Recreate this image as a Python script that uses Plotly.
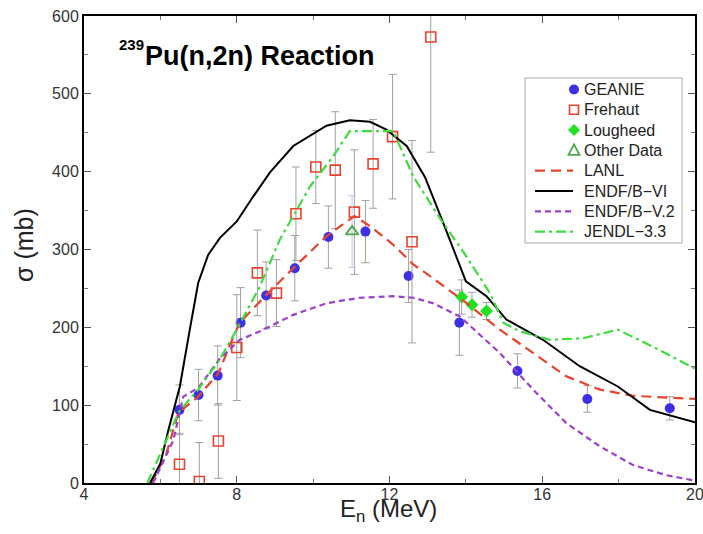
import plotly.graph_objects as go

# ---- data ----
geanie_E = [6.5, 7.0, 7.5, 8.1, 8.77, 9.52, 10.4, 11.37, 12.5, 13.83, 15.35, 17.18, 19.34]
geanie_s = [94, 113, 138, 206, 241, 276, 316, 323, 266, 206, 144, 108, 96]
geanie_err = [32, 33, 38, 45, 43, 42, 40, 40, 34, 42, 22, 17, 15]

frehaut_E = [6.5, 7.02, 7.52, 8.0, 8.54, 9.04, 9.55, 10.07, 10.58, 11.08, 11.57, 12.08, 12.59, 13.08]
frehaut_s = [24, 2, 54, 174, 270, 244, 346, 406, 402, 348, 410, 445, 310, 573]
frehaut_err = [40, 50, 48, 68, 55, 43, 60, 47, 75, 80, 57, 80, 130, 148]

lough_E = [13.89, 14.16, 14.54]
lough_s = [239, 229, 221]
lough_err = [22, 16, 11]

other_E = [11.02]
other_s = [323]
other_err = [46]

lanl_E = [5.77, 6.16, 6.47, 6.99, 7.52, 7.8, 8.08, 8.78, 9.52, 10.35, 11.08, 11.49, 12.1, 12.62, 13.14, 13.84, 14.02, 14.89, 15.76, 16.63, 17.51, 18.38, 20.0]
lanl_s = [0, 38, 90, 111, 141, 175, 206, 242, 278, 317, 343, 330, 306, 281, 263, 238, 231, 197, 167, 137, 120, 112, 108]

endf6_E = [5.73, 6.0, 6.21, 6.51, 6.77, 6.99, 7.25, 7.56, 8.0, 8.43, 8.87, 9.48, 10.35, 10.96, 11.49, 11.92, 12.45, 12.93, 13.41, 14.0, 14.54, 15.06, 16.02, 16.98, 17.98, 18.82, 20.0]
endf6_s = [0, 25, 68, 124, 197, 257, 293, 315, 336, 368, 399, 433, 459, 466, 464, 454, 433, 393, 334, 259, 240, 210, 184, 150, 124, 94, 78]

endf5_E = [5.81, 6.34, 6.6, 6.99, 7.56, 8.08, 8.61, 9.48, 10.35, 11.22, 12.1, 12.62, 13.14, 13.84, 14.02, 14.89, 15.76, 16.63, 17.51, 18.38, 19.25, 20.0]
endf5_s = [0, 55, 111, 122, 160, 184, 195, 216, 231, 238, 240, 238, 231, 214, 206, 167, 120, 77, 47, 23, 10, 3]

jendl_E = [5.66, 6.12, 6.49, 6.99, 7.52, 8.0, 8.61, 9.13, 9.92, 10.53, 10.96, 12.1, 12.62, 13.35, 14.0, 14.63, 14.98, 15.41, 16.2, 17.07, 17.98, 18.9, 20.0]
jendl_s = [0, 51, 92, 120, 156, 197, 253, 313, 381, 420, 452, 452, 394, 338, 292, 244, 206, 195, 184, 186, 197, 175, 147]

x_ticks = [4, 8, 12, 16, 20]
y_ticks = [0, 100, 200, 300, 400, 500, 600]

legend_names = ["GEANIE", "Frehaut", "Lougheed", "Other Data", "LANL", "ENDF/B\u2212VI", "ENDF/B\u2212V.2", "JENDL\u22123.3"]

# ---- styles ----
BLUE = "#3b30e6"
RED = "#e8432c"
GREEN = "#22e022"
OGREEN = "#4aa84a"
PURPLE = "#9b3fd0"
JGREEN = "#3edc3e"
ERR = "#a0a0a0"
FONT = "Liberation Sans, Arial, sans-serif"

W, H = 703, 534
ML, MR, MT, MB = 84, 8, 16, 51
PW, PH = W - ML - MR, H - MT - MB

def px(xp):
    return (xp - ML) / PW

def py(yp):
    return (H - MB - yp) / PH

fig = go.Figure()

def errbar(vals, color=ERR):
    return dict(type="data", array=vals, visible=True, color=color, thickness=1, width=4)

fig.add_trace(go.Scatter(x=geanie_E, y=geanie_s, mode="markers", name="GEANIE",
                         marker=dict(symbol="circle", size=10, color=BLUE),
                         error_y=errbar(geanie_err)))
fig.add_trace(go.Scatter(x=frehaut_E, y=frehaut_s, mode="markers", name="Frehaut",
                         marker=dict(symbol="square-open", size=10, color=RED, line=dict(width=1.6, color=RED)),
                         error_y=errbar(frehaut_err)))
fig.add_trace(go.Scatter(x=lough_E, y=lough_s, mode="markers", name="Lougheed",
                         marker=dict(symbol="diamond", size=10, color=GREEN),
                         error_y=errbar(lough_err)))
fig.add_trace(go.Scatter(x=other_E, y=other_s, mode="markers", name="Other Data",
                         marker=dict(symbol="triangle-up-open", size=11, color=OGREEN, line=dict(width=1.8, color=OGREEN)),
                         error_y=errbar(other_err, "#b8c4ee")))
fig.add_trace(go.Scatter(x=lanl_E, y=lanl_s, mode="lines", name="LANL",
                         line=dict(color=RED, width=2.2, dash="10px,6px")))
fig.add_trace(go.Scatter(x=endf6_E, y=endf6_s, mode="lines", name="ENDF/B-VI",
                         line=dict(color="black", width=2)))
fig.add_trace(go.Scatter(x=endf5_E, y=endf5_s, mode="lines", name="ENDF/B-V.2",
                         line=dict(color=PURPLE, width=2.2, dash="6px,4px")))
fig.add_trace(go.Scatter(x=jendl_E, y=jendl_s, mode="lines", name="JENDL-3.3",
                         line=dict(color=JGREEN, width=2.2, dash="10px,4px,3px,4px")))

# ---- hand-built legend (compact rows like the original) ----
shapes = [dict(type="rect", xref="paper", yref="paper",
               x0=px(525), x1=px(682), y0=py(243), y1=py(78),
               fillcolor="white", line=dict(color="#aaaaaa", width=1), layer="above")]
annotations = []
row0, drow = 89.5, 20.3
text_x = 582
for i, name in enumerate(legend_names):
    yc = row0 + i * drow
    annotations.append(dict(text=name, xref="paper", yref="paper", x=px(text_x), y=py(yc),
                            xanchor="left", yanchor="middle", showarrow=False,
                            font=dict(family=FONT, size=16, color="#222")))
    common = dict(xref="paper", yref="paper", xsizemode="pixel", ysizemode="pixel",
                  xanchor=px(574), yanchor=py(yc), layer="above")
    if i == 0:
        shapes.append(dict(type="circle", x0=-5, x1=5, y0=-5, y1=5, fillcolor=BLUE,
                           line=dict(color=BLUE, width=0), **common))
    elif i == 1:
        shapes.append(dict(type="rect", x0=-4.5, x1=4.5, y0=-4.5, y1=4.5,
                           line=dict(color=RED, width=1.6), **common))
    elif i == 2:
        shapes.append(dict(type="path", path="M -6 0 L 0 6 L 6 0 L 0 -6 Z", fillcolor=GREEN,
                           line=dict(color=GREEN, width=0), **common))
    elif i == 3:
        shapes.append(dict(type="path", path="M -5.5 -4.5 L 5.5 -4.5 L 0 6 Z",
                           line=dict(color=OGREEN, width=1.8), **common))
    else:
        styles = {4: (RED, "10px,6px", 2.2), 5: ("black", "solid", 2),
                  6: (PURPLE, "6px,4px", 2.2), 7: (JGREEN, "10px,4px,3px,4px", 2.2)}
        c, d, w = styles[i]
        shapes.append(dict(type="line", xref="paper", yref="paper",
                           x0=px(535), x1=px(573), y0=py(yc), y1=py(yc),
                           line=dict(color=c, dash=d, width=w), layer="above"))

# title and axis titles
annotations += [
    dict(text="<b>239</b>", xref="paper", yref="paper", x=px(116.5), y=py(44.5),
         xanchor="left", yanchor="middle", showarrow=False,
         font=dict(family=FONT, size=15, color="black")),
    dict(text="<b>Pu(n,2n) Reaction</b>", xref="paper", yref="paper", x=px(142.5), y=py(56),
         xanchor="left", yanchor="middle", showarrow=False,
         font=dict(family=FONT, size=27, color="black")),
    dict(text="E<sub>n</sub> (MeV)", xref="paper", yref="paper", x=px(388.5), y=py(493),
         xanchor="center", yanchor="top", showarrow=False,
         font=dict(family=FONT, size=24, color="#222")),
    dict(text="σ (mb)", xref="paper", yref="paper", x=px(24), y=py(245), textangle=-90,
         xanchor="center", yanchor="middle", showarrow=False,
         font=dict(family=FONT, size=25, color="#222")),
]

axis_common = dict(showline=True, linewidth=2, linecolor="black", mirror="ticks",
                   ticks="inside", ticklen=7, tickwidth=1, tickcolor="#555",
                   showgrid=False, zeroline=False, automargin=False,
                   ticklabeloverflow="allow",
                   tickfont=dict(family=FONT, size=16, color="#333"))

fig.update_layout(
    width=W, height=H,
    margin=dict(l=ML, r=MR, t=MT, b=MB, autoexpand=False),
    paper_bgcolor="white", plot_bgcolor="white",
    showlegend=False,
    xaxis=dict(range=[4, 20], tickvals=x_ticks, ticktext=[str(v) for v in x_ticks],
               minor=dict(dtick=2, ticks="inside", ticklen=4, tickcolor="#777"),
               ticklabelstandoff=-4,
               **axis_common),
    yaxis=dict(range=[0, 600], tickvals=y_ticks, ticktext=[str(v) for v in y_ticks],
               minor=dict(dtick=50, ticks="inside", ticklen=4, tickcolor="#777"),
               **axis_common),
    shapes=shapes,
    annotations=annotations,
)

fig.write_html("out.html", config={"displayModeBar": False},
               post_script="document.body.style.margin='0';document.body.style.overflow='hidden';")
